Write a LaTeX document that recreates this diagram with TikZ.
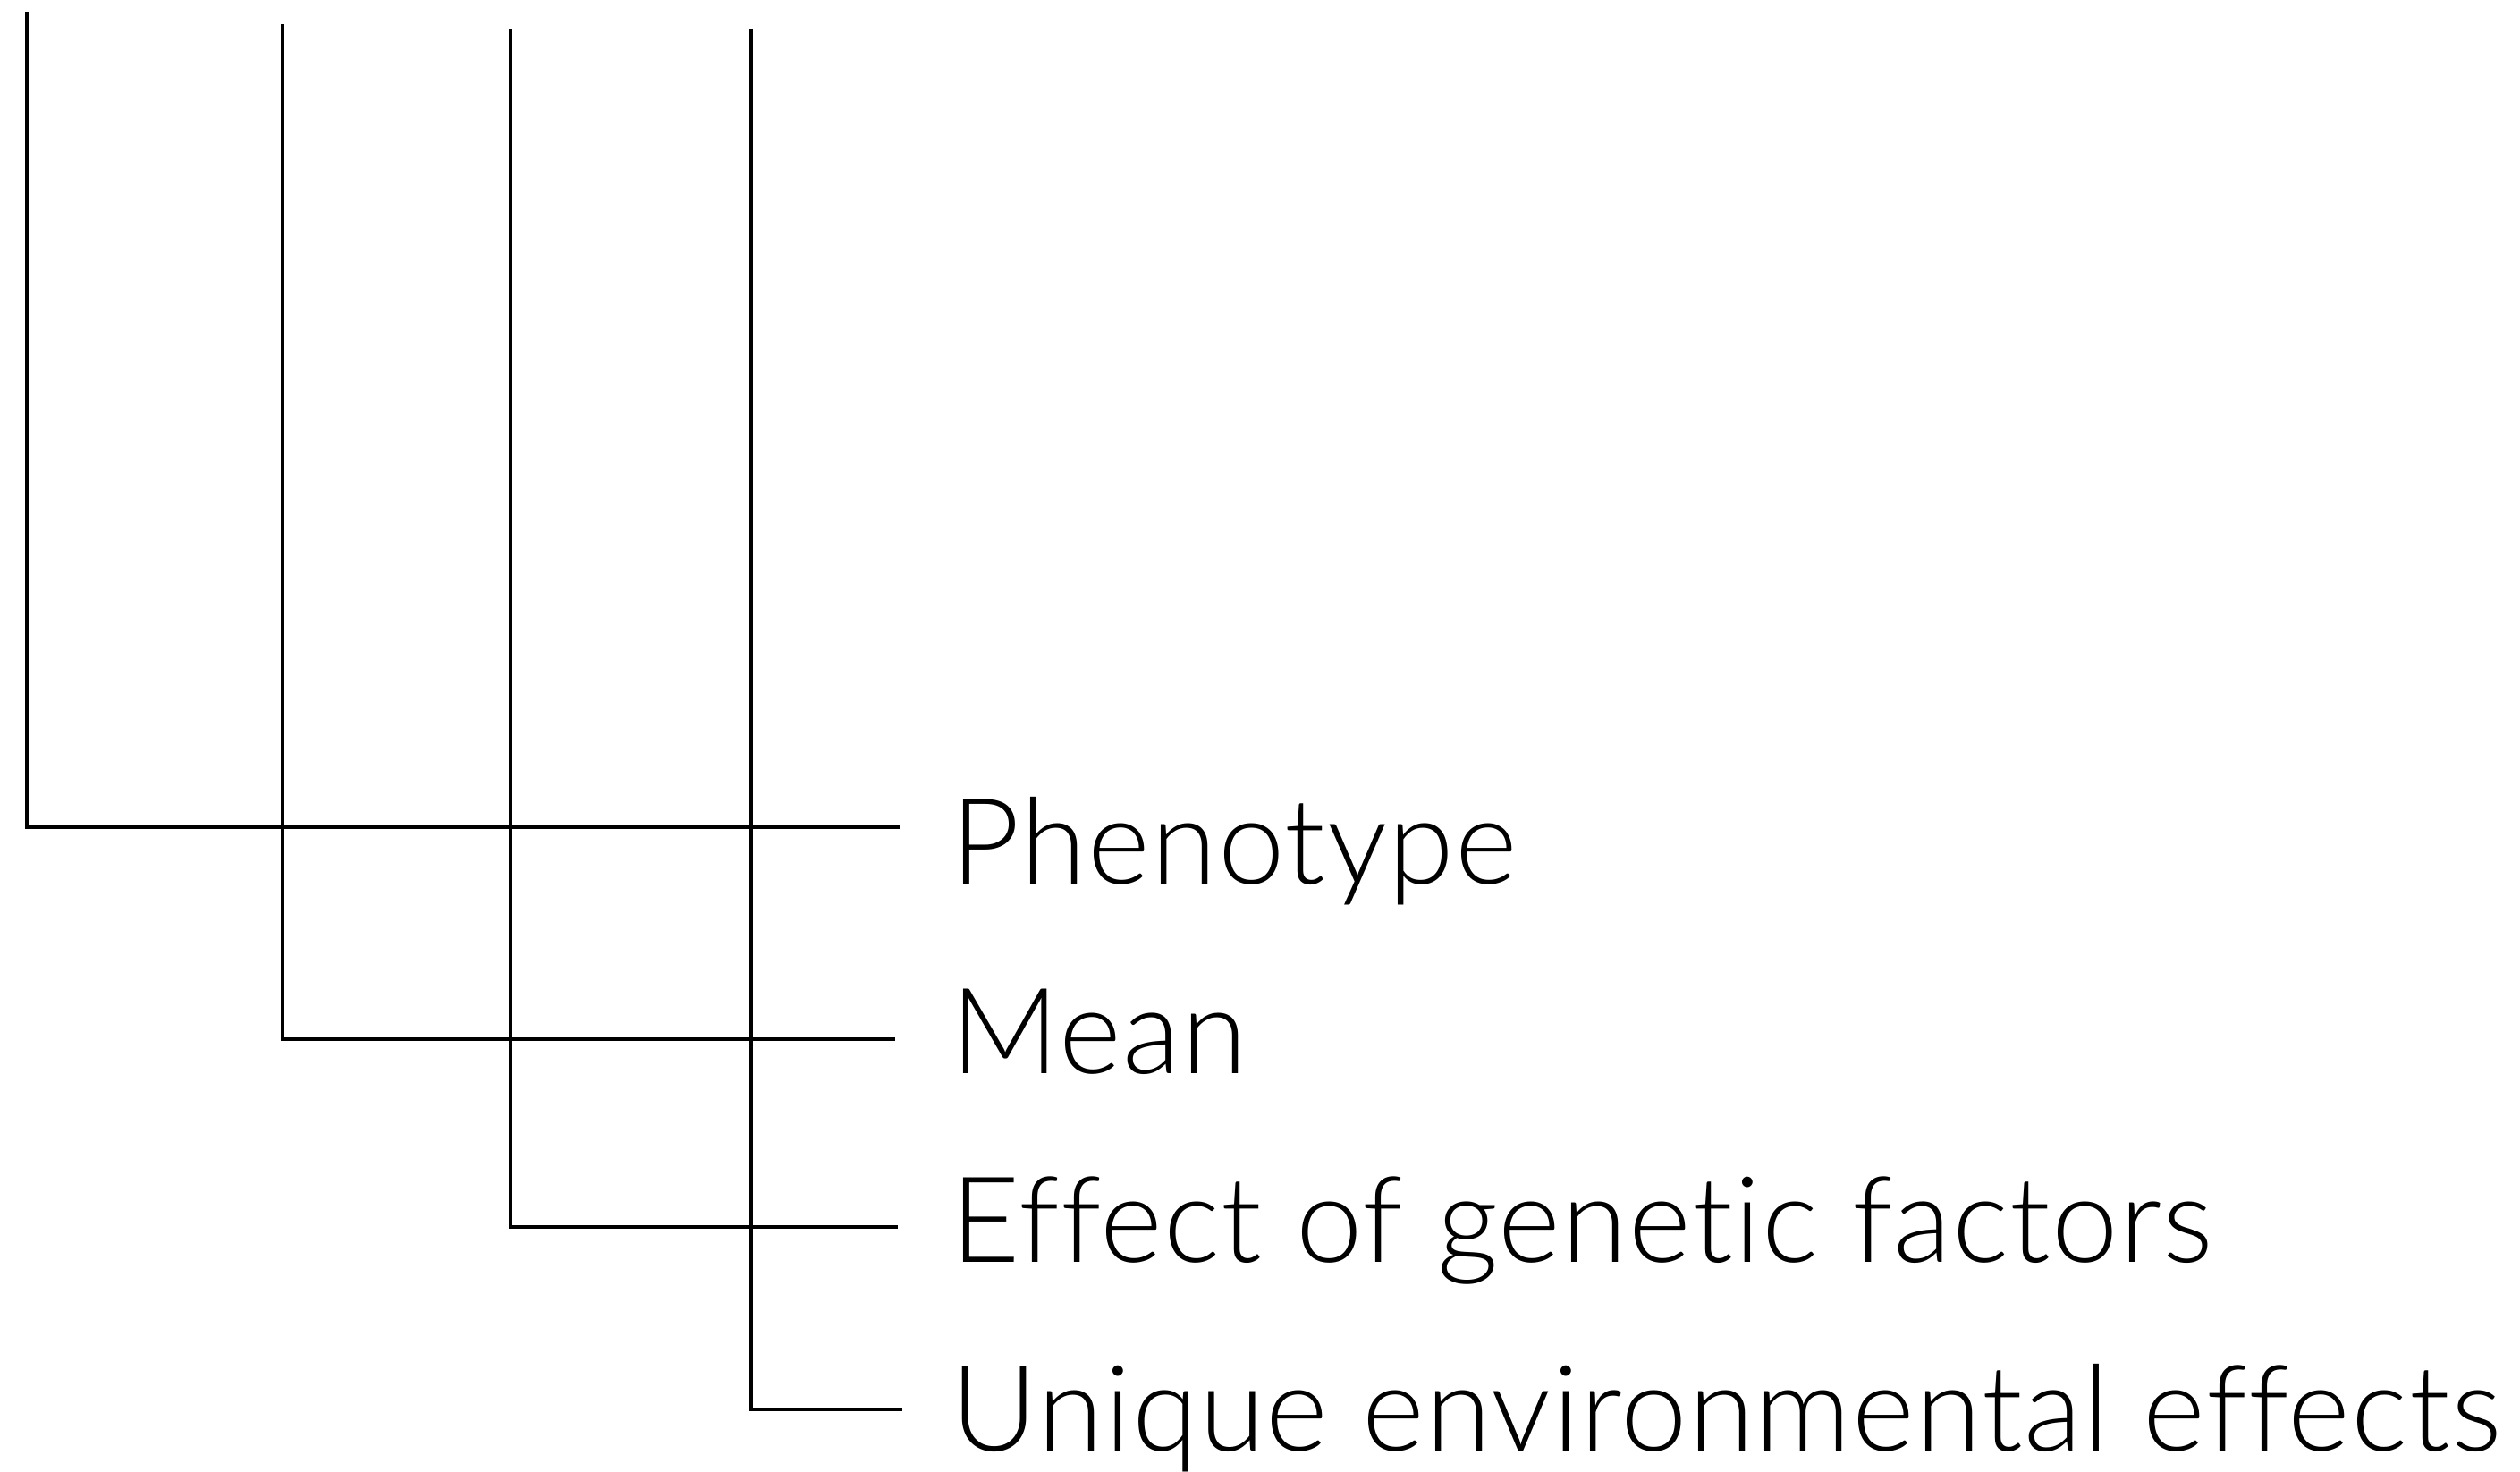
\documentclass[tikz,border=0pt]{standalone}
\usepackage{fontspec}
\setmainfont[Ligatures=CommonOff, LetterSpace=1.0]{Lato Light}
\usepackage{tikz}
\usetikzlibrary{positioning}
\tikzstyle{trait} = [anchor=base west, inner sep=0pt, font=\fontsize{38}{44}\selectfont]
\tikzstyle{branch} = [line width=1.1pt]

\begin{document}
\begin{tikzpicture}
		\useasboundingbox (0,0) rectangle (28.18,16.45);
		\node (Phenotype) [trait] at (10.63,6.56) {Phenotype};
		\node (Mean) [trait] at (10.63,4.45) {Mean};
		\node (Genetic) [trait] at (10.63,2.34) {Effect of genetic factors};
		\node (Environment) [trait] at (10.63,0.23) {Unique environmental effects};
		
		\coordinate (PhenotypeTop) at (0.30,16.32);
		\coordinate (MeanTop) at (3.16,16.18);
		\coordinate (GeneticTop) at (5.71,16.13);
		\coordinate (EnvironmentTop) at (8.40,16.13);
		
		\draw [branch] (PhenotypeTop) |- ([xshift=-5.7mm, yshift=6.4mm]Phenotype.base west);
		\draw [branch] (MeanTop) |- ([xshift=-6.2mm, yshift=3.8mm]Mean.base west);
		\draw [branch] (GeneticTop) |- ([xshift=-5.9mm, yshift=3.9mm]Genetic.base west);
		\draw [branch] (EnvironmentTop) |- ([xshift=-5.4mm, yshift=4.6mm]Environment.base west);
\end{tikzpicture}
\end{document}
